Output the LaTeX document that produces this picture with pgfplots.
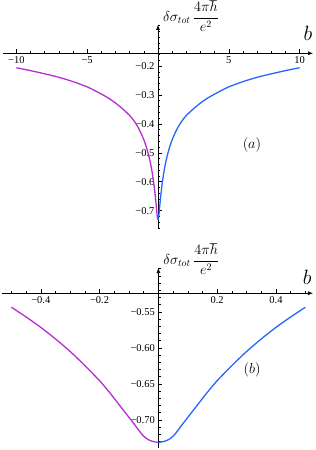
\documentclass[border=0pt]{standalone}
\usepackage{pgfplots}
\pgfplotsset{compat=1.18}
\usepackage{pgfplotstable}
\usepackage{fontspec}
\setmainfont{Liberation Serif}
\usetikzlibrary{arrows.meta}
\definecolor{cpurple}{rgb}{0.71,0.18,0.83}
\definecolor{cblue}{rgb}{0.15,0.40,1.00}

\pgfplotstableread{
b f
-10.0 -0.206
-9.0 -0.216
-8.0 -0.227
-7.0 -0.239
-6.0 -0.254
-5.0 -0.272
-4.5 -0.284
-4.0 -0.297
-3.5 -0.311
-3.0 -0.328
-2.5 -0.348
-2.0 -0.371
-1.75 -0.386
-1.5 -0.404
-1.25 -0.427
-1.0 -0.455
-0.85 -0.476
-0.7 -0.501
-0.6 -0.521
-0.5 -0.5435
-0.4 -0.5715
-0.3 -0.605
-0.2 -0.6455
-0.15 -0.670
-0.1 -0.6965
-0.05 -0.7225
0 -0.731
}\purpleA
\pgfplotstableread{
b f
0 -0.731
0.05 -0.7225
0.1 -0.6965
0.15 -0.670
0.2 -0.6455
0.3 -0.605
0.4 -0.5715
0.5 -0.5435
0.6 -0.521
0.7 -0.501
0.85 -0.476
1.0 -0.455
1.25 -0.427
1.5 -0.404
1.75 -0.386
2.0 -0.371
2.5 -0.348
3.0 -0.328
3.5 -0.311
4.0 -0.297
4.5 -0.284
5.0 -0.272
6.0 -0.254
7.0 -0.239
8.0 -0.227
9.0 -0.216
10.0 -0.206
}\blueA
\pgfplotstableread{
b f
-0.50 -0.5435
-0.45 -0.5570
-0.40 -0.5715
-0.35 -0.5875
-0.30 -0.6050
-0.25 -0.6245
-0.20 -0.6455
-0.18 -0.6550
-0.16 -0.6650
-0.14 -0.6755
-0.12 -0.6860
-0.10 -0.6965
-0.08 -0.7070
-0.06 -0.7180
-0.05 -0.7225
-0.04 -0.7260
-0.03 -0.7283
-0.02 -0.7298
-0.01 -0.7307
0.00 -0.7310
}\purpleB
\pgfplotstableread{
b f
0.00 -0.7310
0.01 -0.7307
0.02 -0.7298
0.03 -0.7283
0.04 -0.7260
0.05 -0.7225
0.06 -0.7180
0.08 -0.7070
0.10 -0.6965
0.12 -0.6860
0.14 -0.6755
0.16 -0.6650
0.18 -0.6550
0.20 -0.6455
0.25 -0.6245
0.30 -0.6050
0.35 -0.5875
0.40 -0.5715
0.45 -0.5570
0.50 -0.5435
}\blueB

\pgfplotsset{mystyle/.style={
  scale only axis,
  anchor=south west,
  axis lines=middle,
  axis line style={line width=0.6pt,-{Latex[length=5pt,width=4pt]}},
  every tick/.style={black, line width=0.5pt},
  major tick length=4pt, minor tick length=2.2pt,
  tick align=inside,
  ticklabel style={font=\fontsize{10.5}{12}\selectfont, fill=none},
  clip=false,
}}

\begin{document}
\begin{tikzpicture}
\useasboundingbox (0,0) rectangle (316pt,450pt);
\begin{axis}[mystyle, at={(3pt,222pt)}, width=310pt, height=203pt,
  xmin=-10.94, xmax=10.94, ymin=-0.760, ymax=-0.0583,
  axis x line shift=28.3pt,
  xtick={-10,-5,5,10}, xticklabels={−10,−5,5,10},
  minor xtick={-10,-9,...,10},
  ytick={-0.7,-0.6,-0.5,-0.4,-0.3,-0.2},
  yticklabels={−0.7,−0.6,−0.5,−0.4,−0.3,−0.2},
  minor ytick={-0.76,-0.74,...,-0.06},
]
\addplot[cpurple, line width=1.3pt, smooth, tension=0.4] table[x=b,y=f] {\purpleA};
\addplot[cblue, line width=1.3pt, smooth, tension=0.4] table[x=b,y=f] {\blueA};
\node[anchor=west, inner sep=0pt] at (axis cs:0.35,-0.0272) {\Large$\displaystyle\delta\sigma_{tot}\,\frac{4\pi\hbar}{e^2}$};
\node at (axis cs:10.59,-0.086) {\fontsize{20}{22}\selectfont$b$};
\node at (axis cs:6.63,-0.473) {\fontsize{15}{17}\selectfont$(a)$};
\end{axis}

\begin{axis}[mystyle, at={(2pt,2pt)}, width=311pt, height=180pt,
  xmin=-0.532, xmax=0.526, ymin=-0.739, ymax=-0.489,
  axis x line shift=25.2pt,
  xtick={-0.4,-0.2,0.2,0.4}, xticklabels={−0.4,−0.2,0.2,0.4},
  minor xtick={-0.5,-0.45,...,0.51},
  ytick={-0.70,-0.65,-0.60,-0.55},
  yticklabels={−0.70,−0.65,−0.60,−0.55},
  minor ytick={-0.73,-0.72,...,-0.49},
]
\addplot[cpurple, line width=1.3pt, smooth, tension=0.4] table[x=b,y=f] {\purpleB};
\addplot[cblue, line width=1.3pt, smooth, tension=0.4] table[x=b,y=f] {\blueB};
\node[anchor=west, inner sep=0pt] at (axis cs:0.016,-0.4768) {\Large$\displaystyle\delta\sigma_{tot}\,\frac{4\pi\hbar}{e^2}$};
\node at (axis cs:0.506,-0.5018) {\fontsize{20}{22}\selectfont$b$};
\node at (axis cs:0.319,-0.631) {\fontsize{15}{17}\selectfont$(b)$};
\end{axis}
\end{tikzpicture}
\end{document}
